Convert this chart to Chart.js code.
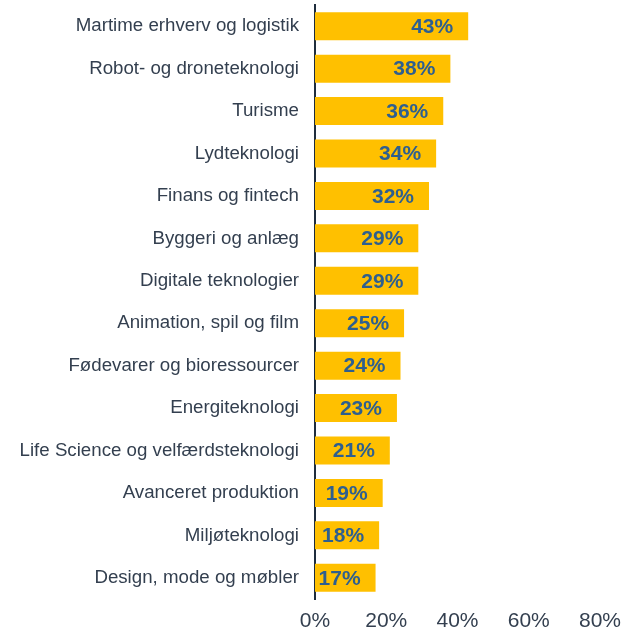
<!DOCTYPE html>
<html><head><meta charset="utf-8">
<script src="https://cdn.jsdelivr.net/npm/chart.js@4"></script>
<style>html,body{margin:0;padding:0;background:#fff}#w{width:622px;height:633px}</style>
</head><body><div id="w"><canvas id="c"></canvas></div>
<script>
const categories = ["Martime erhverv og logistik","Robot- og droneteknologi","Turisme","Lydteknologi","Finans og fintech","Byggeri og anlæg","Digitale teknologier","Animation, spil og film","Fødevarer og bioressourcer","Energiteknologi","Life Science og velfærdsteknologi","Avanceret produktion","Miljøteknologi","Design, mode og møbler"];
const values = [43,38,36,34,32,29,29,25,24,23,21,19,18,17];
const xTicks = [0,20,40,60,80];

const FONT = '"Liberation Sans", Arial, sans-serif';
const labelPlugin = {
  id:'valLabels',
  afterDatasetsDraw(chart){
    const ctx = chart.ctx;
    const meta = chart.getDatasetMeta(0);
    ctx.save();
    ctx.font = 'bold 21px ' + FONT;
    ctx.fillStyle = '#2E5F8F';
    ctx.textAlign = 'right';
    ctx.textBaseline = 'middle';
    meta.data.forEach((bar,i)=>{
      ctx.fillText(values[i]+'%', bar.x-15, bar.y+1);
    });
    ctx.restore();
  }
};

new Chart(document.getElementById('c'),{
  type:'bar',
  data:{labels:categories,datasets:[{data:values,backgroundColor:'#FFC000',borderWidth:0,categoryPercentage:0.66,barPercentage:1}]},
  options:{
    indexAxis:'y',responsive:true,maintainAspectRatio:false,animation:false,
    layout:{padding:{top:5,right:0,left:0,bottom:0}},
    plugins:{legend:{display:false},tooltip:{enabled:false}},
    scales:{
      x:{min:0,max:80,afterBuildTicks(ax){ax.ticks=xTicks.map(v=>({value:v}));},
        afterFit(ax){ax.paddingLeft=0;ax.paddingRight=22;ax.paddingTop=0;ax.paddingBottom=0;ax.height=34;},
        grid:{display:false,drawTicks:false},border:{display:false},
        ticks:{callback:v=>v+'%',color:'#333F4F',font:{family:FONT,size:21},padding:10,maxRotation:0}},
      y:{afterFit(ax){ax.width=315;ax.paddingTop=0;ax.paddingBottom=0;},
        grid:{display:false,drawTicks:false},border:{display:true,color:'#1F2D3D',width:2},
        ticks:{color:'#333F4F',font:{family:FONT,size:18.7},padding:16}}
    }
  },
  plugins:[labelPlugin]
});
</script></body></html>
